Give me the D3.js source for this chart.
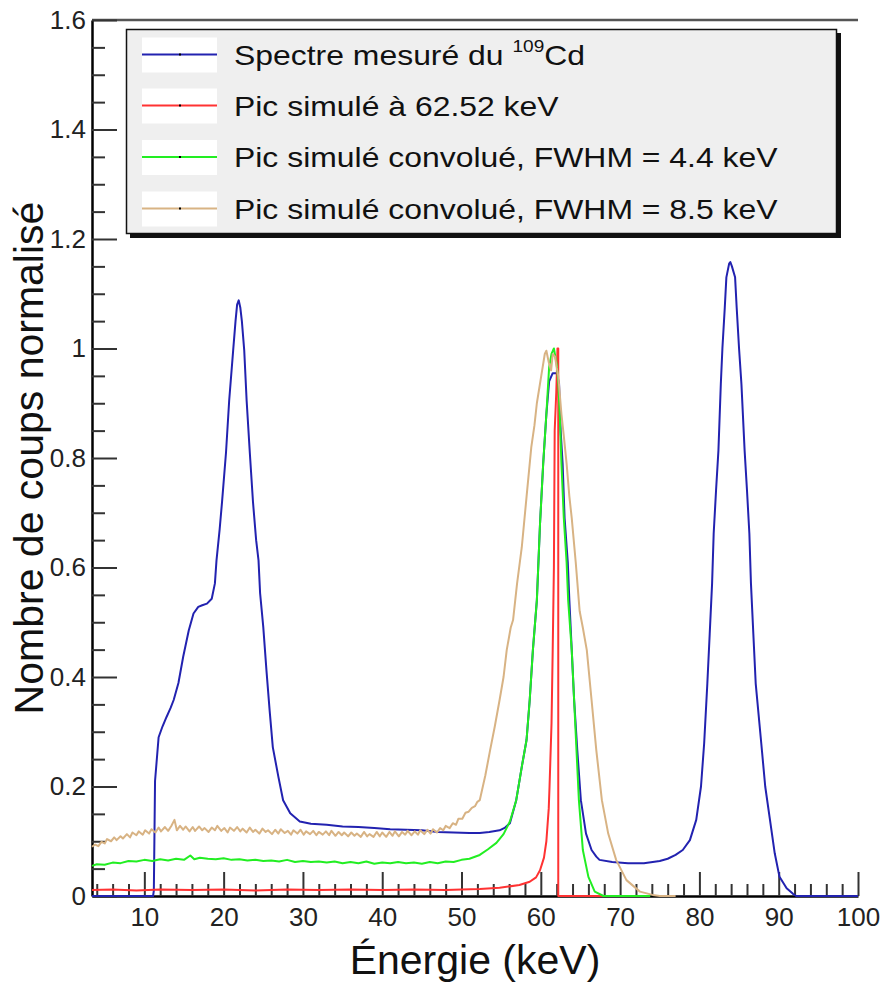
<!DOCTYPE html>
<html><head><meta charset="utf-8">
<script src="https://cdn.jsdelivr.net/npm/d3@7"></script>
<style>body{margin:0;background:#fff}svg{display:block}text{font-family:"Liberation Sans",Arial,Helvetica,sans-serif}</style>
</head><body>
<script>
// ---- data: [energy keV, normalised counts] ----
const blueSpectrum = [[3.4,0],[11.1,0],[11.2,0.01],[11.35,0.21],[11.8,0.29],[12.3,0.31],[12.8,0.327],[13.3,0.343],[13.7,0.358],[14.3,0.389],[14.9,0.437],[15.6,0.485],[16.2,0.516],[16.8,0.528],[17.3,0.531],[17.9,0.534],[18.5,0.543],[18.9,0.571],[19.1,0.613],[19.5,0.67],[19.8,0.72],[20.3,0.81],[20.7,0.905],[21.2,0.996],[21.5,1.05],[21.7,1.08],[21.9,1.088],[22.1,1.075],[22.3,1.05],[22.6,0.996],[22.9,0.905],[23.3,0.81],[23.7,0.72],[24.1,0.65],[24.4,0.613],[24.6,0.553],[25.0,0.491],[25.4,0.412],[25.8,0.339],[26.2,0.272],[26.9,0.218],[27.5,0.175],[28.4,0.151],[29.6,0.136],[31,0.132],[33,0.13],[35,0.127],[37,0.126],[39,0.124],[41,0.122],[43,0.121],[45,0.12],[47,0.117],[49,0.116],[51,0.115],[52.3,0.115],[53.5,0.117],[54.8,0.12],[55.5,0.125],[56.1,0.133],[56.9,0.175],[57.6,0.236],[58.2,0.285],[58.6,0.358],[59.0,0.449],[59.5,0.54],[59.9,0.68],[60.3,0.79],[60.7,0.88],[61.05,0.94],[61.5,0.955],[62.0,0.955],[62.3,0.936],[62.5,0.85],[62.75,0.79],[63.0,0.69],[63.4,0.61],[63.6,0.54],[63.9,0.449],[64.2,0.358],[64.6,0.266],[65.05,0.175],[65.7,0.114],[66.4,0.084],[67.0,0.072],[67.4,0.066],[69,0.062],[71,0.06],[73,0.06],[75,0.064],[76,0.068],[77,0.075],[77.9,0.084],[78.8,0.102],[79.6,0.139],[80.2,0.2],[80.6,0.279],[81.0,0.388],[81.3,0.479],[81.6,0.571],[81.8,0.662],[82.1,0.741],[82.4,0.814],[82.7,0.935],[82.9,1.0],[83.2,1.075],[83.4,1.13],[83.75,1.155],[83.9,1.158],[84.1,1.15],[84.5,1.13],[84.7,1.075],[85.0,1.0],[85.3,0.935],[85.7,0.814],[86.0,0.741],[86.3,0.662],[86.5,0.571],[86.8,0.479],[87.1,0.388],[87.8,0.279],[88.3,0.2],[88.9,0.139],[89.5,0.078],[90.1,0.035],[91.0,0.014],[91.8,0.004],[92.2,0],[100,0]];

const redSimulated = [[3.4,0.011],[6,0.012],[9,0.01],[12,0.012],[16,0.011],[20,0.012],[24,0.01],[28,0.012],[32,0.011],[36,0.012],[40,0.011],[44,0.012],[48,0.011],[50,0.012],[52.3,0.013],[54.8,0.015],[57.3,0.02],[58.6,0.026],[59.4,0.034],[59.9,0.047],[60.4,0.07],[60.7,0.1],[61.0,0.16],[61.1,0.2],[61.35,0.315],[61.5,0.45],[61.65,0.6],[61.75,0.85],[61.95,0.92],[62.05,0.97],[62.1,1.0],[62.2,1.0],[62.2,0],[67.9,0]];

const greenConv44 = [[3.4,0.055],[4,0.058],[5,0.057],[6,0.061],[7,0.06],[8,0.064],[9,0.063],[10,0.066],[11,0.064],[12,0.067],[13,0.065],[14,0.068],[15,0.066],[15.8,0.074],[16.3,0.067],[17,0.07],[18,0.068],[19,0.067],[20,0.069],[21,0.066],[22,0.067],[23,0.065],[24,0.066],[25,0.064],[26,0.065],[27,0.063],[28,0.066],[29,0.062],[30,0.064],[31,0.062],[32,0.063],[33,0.061],[34,0.063],[35,0.06],[36,0.062],[37,0.06],[38,0.063],[39,0.059],[40,0.061],[41,0.06],[42,0.062],[43,0.06],[44,0.061],[45,0.059],[46,0.062],[47,0.06],[48,0.063],[49,0.062],[50,0.066],[51,0.068],[52.3,0.075],[53.3,0.085],[54.4,0.097],[55.3,0.113],[56.1,0.136],[56.9,0.175],[57.6,0.236],[58.2,0.285],[58.6,0.358],[59.0,0.449],[59.5,0.54],[59.9,0.68],[60.3,0.79],[60.7,0.88],[61.05,0.966],[61.35,0.99],[61.65,1.0],[62.0,0.972],[62.2,0.94],[62.4,0.875],[62.6,0.79],[62.9,0.69],[63.25,0.61],[63.45,0.54],[63.9,0.449],[64.2,0.358],[64.5,0.266],[64.8,0.175],[65.3,0.084],[66.0,0.035],[66.8,0.008],[67.9,0],[73.8,0]];

const tanConv85 = [[3.4,0.09],[3.8,0.094],[4.2,0.091],[4.6,0.099],[5.0,0.096],[5.3,0.104],[5.8,0.1],[6.2,0.107],[6.5,0.102],[7.0,0.109],[7.3,0.105],[7.8,0.113],[8.2,0.107],[8.5,0.116],[9.0,0.111],[9.3,0.118],[9.8,0.112],[10.1,0.12],[10.6,0.114],[10.9,0.122],[11.4,0.116],[11.8,0.125],[12.1,0.118],[12.6,0.126],[13.0,0.119],[13.4,0.128],[13.8,0.139],[14.1,0.12],[14.5,0.128],[14.9,0.121],[15.2,0.127],[15.7,0.118],[16.1,0.126],[16.4,0.119],[16.9,0.127],[17.3,0.12],[17.6,0.124],[18.1,0.117],[18.5,0.125],[18.9,0.12],[19.2,0.128],[19.7,0.119],[20.1,0.124],[20.5,0.116],[20.8,0.125],[21.3,0.119],[21.7,0.126],[22.1,0.118],[22.4,0.123],[22.9,0.116],[23.3,0.125],[23.7,0.117],[24.0,0.121],[24.5,0.114],[24.9,0.123],[25.3,0.117],[25.6,0.12],[26.1,0.113],[26.5,0.121],[26.9,0.114],[27.2,0.122],[27.7,0.115],[28.1,0.119],[28.5,0.112],[28.8,0.12],[29.3,0.114],[29.7,0.121],[30.1,0.112],[30.4,0.118],[30.9,0.113],[31.3,0.119],[31.7,0.111],[32.0,0.117],[32.5,0.112],[32.9,0.118],[33.3,0.111],[33.6,0.119],[34.1,0.11],[34.5,0.117],[34.9,0.111],[35.2,0.116],[35.7,0.109],[36.1,0.116],[36.5,0.11],[36.8,0.114],[37.3,0.108],[37.7,0.117],[38.1,0.109],[38.4,0.113],[38.9,0.108],[39.3,0.117],[39.7,0.109],[40.0,0.116],[40.5,0.108],[40.9,0.117],[41.3,0.11],[41.6,0.118],[42.1,0.109],[42.5,0.117],[42.9,0.112],[43.2,0.119],[43.7,0.111],[44.1,0.118],[44.5,0.112],[44.8,0.12],[45.3,0.113],[45.7,0.121],[46.1,0.114],[46.4,0.122],[46.9,0.116],[47.3,0.124],[47.7,0.12],[48.0,0.128],[48.5,0.124],[48.9,0.133],[49.3,0.13],[49.6,0.141],[50.1,0.141],[50.5,0.152],[50.9,0.154],[51.3,0.161],[51.7,0.164],[52.0,0.172],[52.3,0.175],[53.0,0.22],[53.6,0.266],[54.2,0.31],[54.8,0.358],[55.3,0.4],[55.7,0.449],[56.2,0.49],[56.5,0.504],[57.0,0.57],[57.6,0.637],[58.2,0.729],[58.8,0.82],[59.2,0.86],[59.5,0.9],[60.1,0.954],[60.5,0.99],[60.7,0.996],[61.0,0.975],[61.3,0.96],[61.5,0.99],[61.8,0.985],[62.0,0.965],[62.2,0.95],[62.6,0.88],[62.9,0.84],[63.25,0.79],[63.6,0.73],[63.9,0.69],[64.4,0.61],[64.9,0.52],[65.3,0.49],[65.8,0.449],[66.4,0.358],[67.0,0.266],[67.7,0.175],[68.5,0.114],[69.5,0.066],[70.8,0.029],[72.5,0.008],[74.1,0.002],[75,0],[77,0]];

const seriesNames = ["Spectre mesuré du ", "Pic simulé à 62.52 keV", "Pic simulé convolué, FWHM = 4.4 keV", "Pic simulé convolué, FWHM = 8.5 keV"];
const seriesColors = ["#2222b0", "#ff3232", "#22ee22", "#d8b384"];
const xMajorTicks = [10,20,30,40,50,60,70,80,90,100];
const yMajorTicks = [0,0.2,0.4,0.6,0.8,1,1.2,1.4,1.6];
const xDomain = [3.4, 100];
const yDomain = [0, 1.6];
const xTitle = "Énergie (keV)";
const yTitle = "Nombre de coups normalisé";

// ---- layout ----
const W = 882, H = 984;
const L = 92, R = 858, T = 20, B = 896;
const svg = d3.select("body").append("svg").attr("width", W).attr("height", H);
const x = d3.scaleLinear().domain(xDomain).range([L, R]);
const y = d3.scaleLinear().domain(yDomain).range([B, T]);

// frame top line
svg.append("line").attr("x1", L).attr("x2", R).attr("y1", T).attr("y2", T)
  .attr("stroke", "#555").attr("stroke-width", 2.5);

const xMinor = d3.range(4, 100, 2).filter(v => v % 10 !== 0);
const yMinor = d3.range(0.05, 1.6, 0.05).filter(v => Math.abs(v*5 - Math.round(v*5)) > 1e-6);

const fmtY = d => String(+d.toFixed(1));

// x axis
const gx = svg.append("g").attr("transform", `translate(0,${B})`);
gx.call(d3.axisBottom(x).tickValues(xMajorTicks).tickSizeInner(-24).tickSizeOuter(0).tickPadding(12).tickFormat(d3.format("d")));
const gxm = svg.append("g").attr("transform", `translate(0,${B})`);
gxm.call(d3.axisBottom(x).tickValues(xMinor).tickSizeInner(-12).tickSizeOuter(0).tickFormat(""));
gxm.select(".domain").remove();
// y axis
const gy = svg.append("g").attr("transform", `translate(${L},0)`);
gy.call(d3.axisLeft(y).tickValues(yMajorTicks).tickSizeInner(-25).tickSizeOuter(0).tickPadding(6).tickFormat(fmtY));
const gym = svg.append("g").attr("transform", `translate(${L},0)`);
gym.call(d3.axisLeft(y).tickValues(yMinor).tickSizeInner(-13).tickSizeOuter(0).tickFormat(""));
gym.select(".domain").remove();

svg.selectAll(".tick line").attr("stroke", "#333").attr("stroke-width", 2);
svg.selectAll(".domain").attr("stroke", "#000").attr("stroke-width", 2.5);
svg.selectAll(".tick text").attr("font-size", 26).attr("fill", "#222")
  .attr("font-family", "'Liberation Sans', Arial, sans-serif");

// curves
const line = d3.line().x(d => x(d[0])).y(d => y(d[1]));
const allSeries = [blueSpectrum, redSimulated, greenConv44, tanConv85];
svg.append("g").selectAll("path").data(allSeries).join("path")
  .attr("d", line).attr("fill", "none")
  .attr("stroke", (d, i) => seriesColors[i]).attr("stroke-width", 2)
  .attr("stroke-linejoin", "round");

// titles
svg.append("text").attr("x", (L + R) / 2).attr("y", 974).attr("text-anchor", "middle")
  .attr("font-size", 41).attr("fill", "#111").text(xTitle);
svg.append("text").attr("transform", `translate(43,${(T + B) / 2}) rotate(-90)`)
  .attr("text-anchor", "middle").attr("font-size", 41).attr("fill", "#111").text(yTitle);

// legend
const lg = svg.append("g");
lg.append("rect").attr("x", 130).attr("y", 33).attr("width", 711).attr("height", 205).attr("fill", "#111");
lg.append("rect").attr("x", 126.5).attr("y", 29.5).attr("width", 710).attr("height", 204)
  .attr("fill", "#efefef").attr("stroke", "#111").attr("stroke-width", 1.5);
const rowY = [54.5, 105.5, 157, 208.5];
seriesNames.forEach((name, i) => {
  const cy = rowY[i];
  lg.append("rect").attr("x", 142).attr("y", cy - 17).attr("width", 75).attr("height", 35).attr("fill", "#fff");
  lg.append("line").attr("x1", 142).attr("x2", 217).attr("y1", cy).attr("y2", cy)
    .attr("stroke", seriesColors[i]).attr("stroke-width", 2);
  lg.append("rect").attr("x", 179).attr("y", cy - 1).attr("width", 2).attr("height", 2).attr("fill", "#000");
  const t = lg.append("text").attr("transform", `translate(234,${cy + 10}) scale(1.12,1)`)
    .attr("font-size", 28.5).attr("fill", "#111");
  t.append("tspan").text(name);
  if (i === 0) {
    t.append("tspan").attr("font-size", 17).attr("dy", -13).text("109");
    t.append("tspan").attr("dy", 13).text("Cd");
  }
});
</script>
</body></html>
